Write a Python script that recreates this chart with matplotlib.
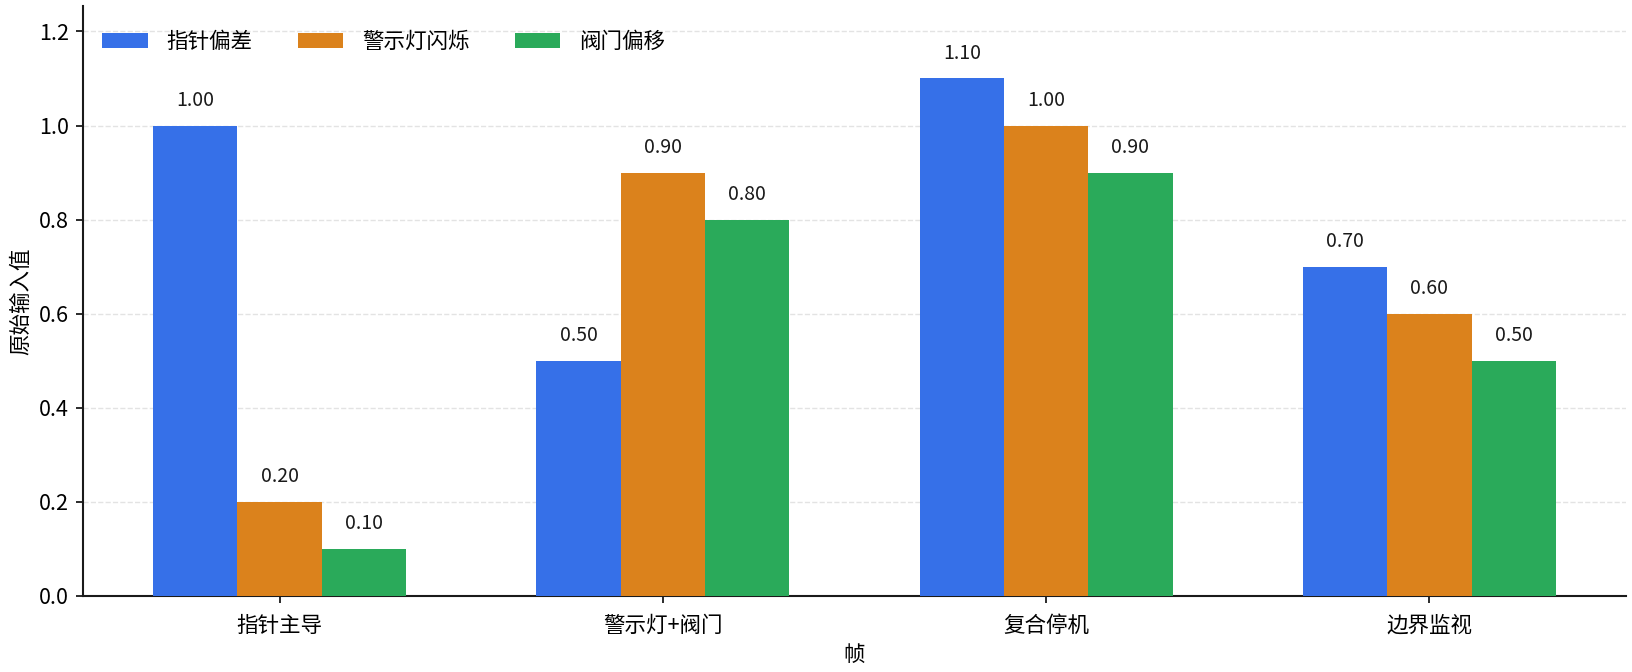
import matplotlib
matplotlib.use("Agg")
import matplotlib.pyplot as plt
import numpy as np

plt.rcParams['font.family'] = ['Noto Sans CJK SC', 'DejaVu Sans']

categories = ["指针主导", "警示灯+阀门", "复合停机", "边界监视"]
series_names = ["指针偏差", "警示灯闪烁", "阀门偏移"]
pointer = [1.00, 0.50, 1.10, 0.70]
warning = [0.20, 0.90, 1.00, 0.60]
valve = [0.10, 0.80, 0.90, 0.50]
colors = ["#3670E8", "#DB821C", "#2AAA5A"]

fig = plt.figure(figsize=(16.32, 6.72), dpi=100)
ax = fig.add_axes([83/1632, 1-596/672, (1626-83)/1632, (596-6)/672])

x = np.arange(len(categories))
w = 0.22
for i, (vals, name, c) in enumerate(zip([pointer, warning, valve], series_names, colors)):
    bars = ax.bar(x + (i-1)*w, vals, w, color=c, label=name, zorder=3)
    for b, v in zip(bars, vals):
        ax.annotate(f"{v:.2f}", (b.get_x()+b.get_width()/2, v), xytext=(0, 10.5),
                    textcoords="offset points", ha="center", va="bottom", fontsize=14, color="#1a1a1a")

ax.set_ylim(0, 1.254)
ax.set_xticks(x)
ax.set_xticklabels(categories, fontsize=15.5)
ax.tick_params(axis='both', labelsize=15.5, length=5, width=1.3, color="#1a1a1a")
ax.tick_params(axis='x', pad=8.5)
ax.tick_params(axis='y', pad=5)
ax.set_yticks([0, 0.2, 0.4, 0.6, 0.8, 1.0, 1.2])
ax.set_yticklabels(["0.0", "0.2", "0.4", "0.6", "0.8", "1.0", "1.2"])
ax.set_xlabel("帧", fontsize=15.5, labelpad=5)
ax.set_ylabel("原始输入值", fontsize=15.5, labelpad=5)
ax.grid(axis='y', linestyle='--', color='#e3e3e3', linewidth=1, zorder=0)
ax.spines['top'].set_visible(False)
ax.spines['right'].set_visible(False)
for s in ('left', 'bottom'):
    ax.spines[s].set_linewidth(1.5)
    ax.spines[s].set_color("#1a1a1a")
ax.legend(loc='upper left', ncol=3, frameon=False, fontsize=15.5, handlelength=2.1,
          handletextpad=0.88, columnspacing=2.1, bbox_to_anchor=(0, 0.991))

fig.savefig("out.png", dpi=100)
